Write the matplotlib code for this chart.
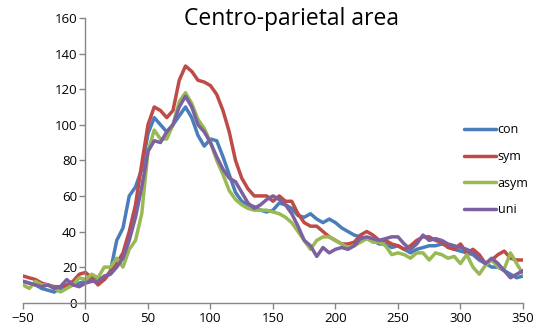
import numpy as np
import matplotlib
matplotlib.use('Agg')
import matplotlib.pyplot as plt

# time axis (ms), one value every 5 ms
time_ms = list(range(-50, 355, 5))

con = [12, 11, 10, 8, 7, 6, 8, 9, 10, 11, 12, 14, 14, 13, 18, 35, 42, 60, 65, 75,
       95, 104, 100, 96, 100, 105, 110, 104, 94, 88, 92, 91, 82, 72, 62, 57, 55, 54, 52, 51,
       52, 56, 55, 53, 49, 48, 50, 47, 45, 47, 45, 42, 40, 38, 37, 36, 35, 33, 33, 31,
       32, 30, 28, 30, 31, 32, 32, 33, 32, 30, 29, 28, 27, 24, 22, 20, 20, 18, 16, 14, 15]
sym = [15, 14, 13, 11, 10, 9, 9, 10, 12, 16, 17, 14, 10, 13, 17, 22, 28, 40, 55, 78,
       100, 110, 108, 104, 108, 125, 133, 130, 125, 124, 122, 117, 108, 96, 80, 70, 64, 60, 60, 60,
       57, 60, 57, 57, 50, 45, 43, 43, 40, 37, 35, 33, 33, 34, 38, 40, 38, 35, 35, 33,
       32, 30, 32, 35, 37, 37, 35, 34, 31, 30, 33, 28, 30, 27, 22, 24, 27, 29, 25, 24, 24]
asym = [10, 8, 12, 10, 10, 8, 6, 8, 10, 14, 13, 16, 14, 20, 20, 25, 20, 30, 35, 50,
        85, 97, 92, 92, 100, 113, 118, 112, 103, 98, 90, 80, 72, 63, 58, 55, 53, 52, 52, 52,
        51, 50, 48, 45, 40, 35, 30, 35, 37, 37, 35, 33, 31, 32, 34, 36, 34, 34, 32, 27,
        28, 27, 25, 28, 28, 24, 28, 27, 25, 26, 22, 27, 20, 16, 21, 24, 20, 19, 28, 22, 16]
uni = [12, 11, 10, 9, 10, 8, 9, 13, 10, 9, 11, 12, 12, 15, 16, 20, 25, 35, 48, 65,
       85, 91, 90, 96, 100, 110, 116, 110, 100, 96, 90, 82, 75, 70, 68, 62, 56, 53, 55, 58,
       60, 58, 55, 50, 43, 35, 32, 26, 31, 28, 30, 31, 30, 32, 36, 37, 36, 35, 36, 37,
       37, 33, 30, 33, 38, 35, 36, 35, 33, 32, 31, 30, 28, 25, 22, 25, 22, 18, 14, 16, 18]

series_names = ['con', 'sym', 'asym', 'uni']
series_colors = ['#4A7EBB', '#BE4B48', '#98B954', '#7D60A0']

plt.rcParams['font.family'] = ['Open Sans', 'DejaVu Sans']

fig = plt.figure(figsize=(5.36, 3.33), dpi=100)
ax = fig.add_axes([0.0429, 0.091, 0.9328, 0.855])

for name, vals, col in zip(series_names, [con, sym, asym, uni], series_colors):
    ax.plot(time_ms, vals, color=col, lw=2.5, label=name,
            solid_joinstyle='round', solid_capstyle='round')

ax.set_xlim(-50, 350)
ax.set_ylim(0, 160)
ax.set_xticks(range(-50, 351, 50))
ax.set_yticks(range(0, 161, 20))

# excel style axes: vertical axis crosses at x = 0
ax.spines['top'].set_visible(False)
ax.spines['right'].set_visible(False)
ax.spines['left'].set_position(('data', 0))
for s in ['left', 'bottom']:
    ax.spines[s].set_color('#868686')
    ax.spines[s].set_linewidth(1.0)
ax.tick_params(axis='both', colors='#868686', labelcolor='black', labelsize=9.5, length=4, width=1.0)
ax.tick_params(axis='x', pad=3)
ax.tick_params(axis='y', pad=2)

fig.text(291 / 536, 1 - 19 / 333, 'Centro-parietal area', fontsize=16.5,
         ha='center', va='center')

ax.legend(loc='upper left', bbox_to_anchor=(0.872, 0.648), frameon=False, fontsize=9,
          handlelength=2.6, handletextpad=0.1, labelspacing=1.1, borderaxespad=0)

fig.savefig('out.png', dpi=100)
